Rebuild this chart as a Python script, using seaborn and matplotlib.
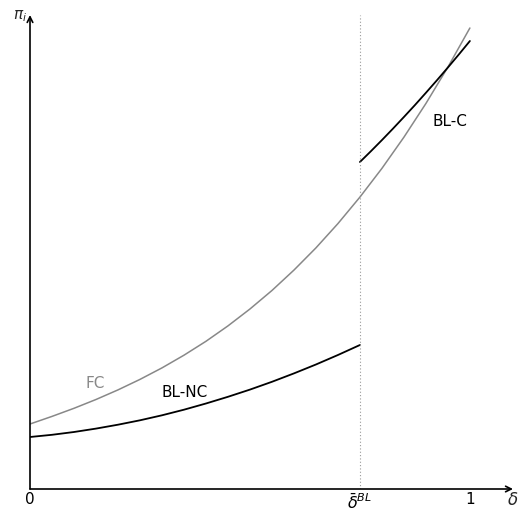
import matplotlib
matplotlib.use("Agg")
import matplotlib.pyplot as plt
import seaborn as sns
import pandas as pd

sns.set_style("white")
plt.rcParams["font.family"] = ["DejaVu Sans"]
plt.rcParams["mathtext.fontset"] = "dejavusans"

# Profit curves against delta
fc_x = [0.0, 0.05, 0.1, 0.15, 0.2, 0.25, 0.3, 0.35, 0.4, 0.45, 0.5, 0.55,
        0.6, 0.65, 0.7, 0.75, 0.8, 0.85, 0.9, 0.95, 1.0]
fc_y = [0.65, 0.726, 0.807, 0.895, 0.991, 1.096, 1.211, 1.338, 1.477, 1.631, 1.800, 1.985,
        2.189, 2.411, 2.654, 2.919, 3.206, 3.518, 3.855, 4.219, 4.61]

blnc_x = [0.0, 0.05, 0.1, 0.15, 0.2, 0.25, 0.3, 0.35, 0.4, 0.45, 0.5, 0.55,
          0.6, 0.65, 0.7, 0.75]
blnc_y = [0.52, 0.542, 0.570, 0.604, 0.643, 0.687, 0.737, 0.793, 0.855, 0.922, 0.994, 1.072,
          1.156, 1.245, 1.340, 1.44]

blc_x = [0.75, 0.775, 0.8, 0.825, 0.85, 0.875, 0.9, 0.925, 0.95, 0.975, 1.0]
blc_y = [3.27, 3.378, 3.489, 3.603, 3.720, 3.839, 3.962, 4.087, 4.215, 4.346, 4.48]

delta_bl = 0.75
tick_pos = [0, delta_bl, 1]
tick_labels = ["0", r"$\bar{\delta}^{BL}$", "1"]

fig = plt.figure(figsize=(5.18, 5.11), dpi=100)
ax = fig.add_axes([30 / 518, 22 / 511, 483 / 518, 474 / 511])
ax.set_xlim(0, 1.098)
ax.set_ylim(0, 4.74)

fc = pd.DataFrame({"x": fc_x, "y": fc_y})
blnc = pd.DataFrame({"x": blnc_x, "y": blnc_y})
blc = pd.DataFrame({"x": blc_x, "y": blc_y})

sns.lineplot(data=fc, x="x", y="y", ax=ax, color="#888888", lw=1.1)
sns.lineplot(data=blnc, x="x", y="y", ax=ax, color="black", lw=1.3)
sns.lineplot(data=blc, x="x", y="y", ax=ax, color="black", lw=1.3)

ax.axvline(delta_bl, color="#999999", lw=0.8, ls=(0, (1, 2)))

ax.text(0.148, 1.06, "FC", color="#888888", fontsize=11, ha="center", va="center")
ax.text(0.352, 0.97, "BL-NC", color="black", fontsize=11, ha="center", va="center")
ax.text(0.955, 3.68, "BL-C", color="black", fontsize=11, ha="center", va="center")

for s in ax.spines.values():
    s.set_visible(False)

# axes drawn as arrows
ax.annotate("", xy=(1.0, 0), xytext=(0, 0), xycoords="axes fraction",
            arrowprops=dict(arrowstyle="->", color="black", lw=1.2, shrinkA=0, shrinkB=0))
ax.annotate("", xy=(0, 1.0), xytext=(0, 0), xycoords="axes fraction",
            arrowprops=dict(arrowstyle="->", color="black", lw=1.2, shrinkA=0, shrinkB=0))

ax.set_xticks(tick_pos)
ax.set_xticklabels(tick_labels, fontsize=11)
ax.get_xticklabels()[1].set_fontsize(11.5)
ax.tick_params(axis="x", length=3, direction="inout", width=0.8, pad=1, colors="black")
ax.set_yticks([])
ax.set_xlabel("")
ax.set_ylabel("")

fig.text(513 / 518, 1 - 500 / 511, r"$\delta$", fontsize=12, ha="center", va="center")
fig.text(20 / 518, 1 - 16 / 511, r"$\pi_i$", fontsize=11, ha="center", va="center")

fig.savefig("out.png", dpi=100)
